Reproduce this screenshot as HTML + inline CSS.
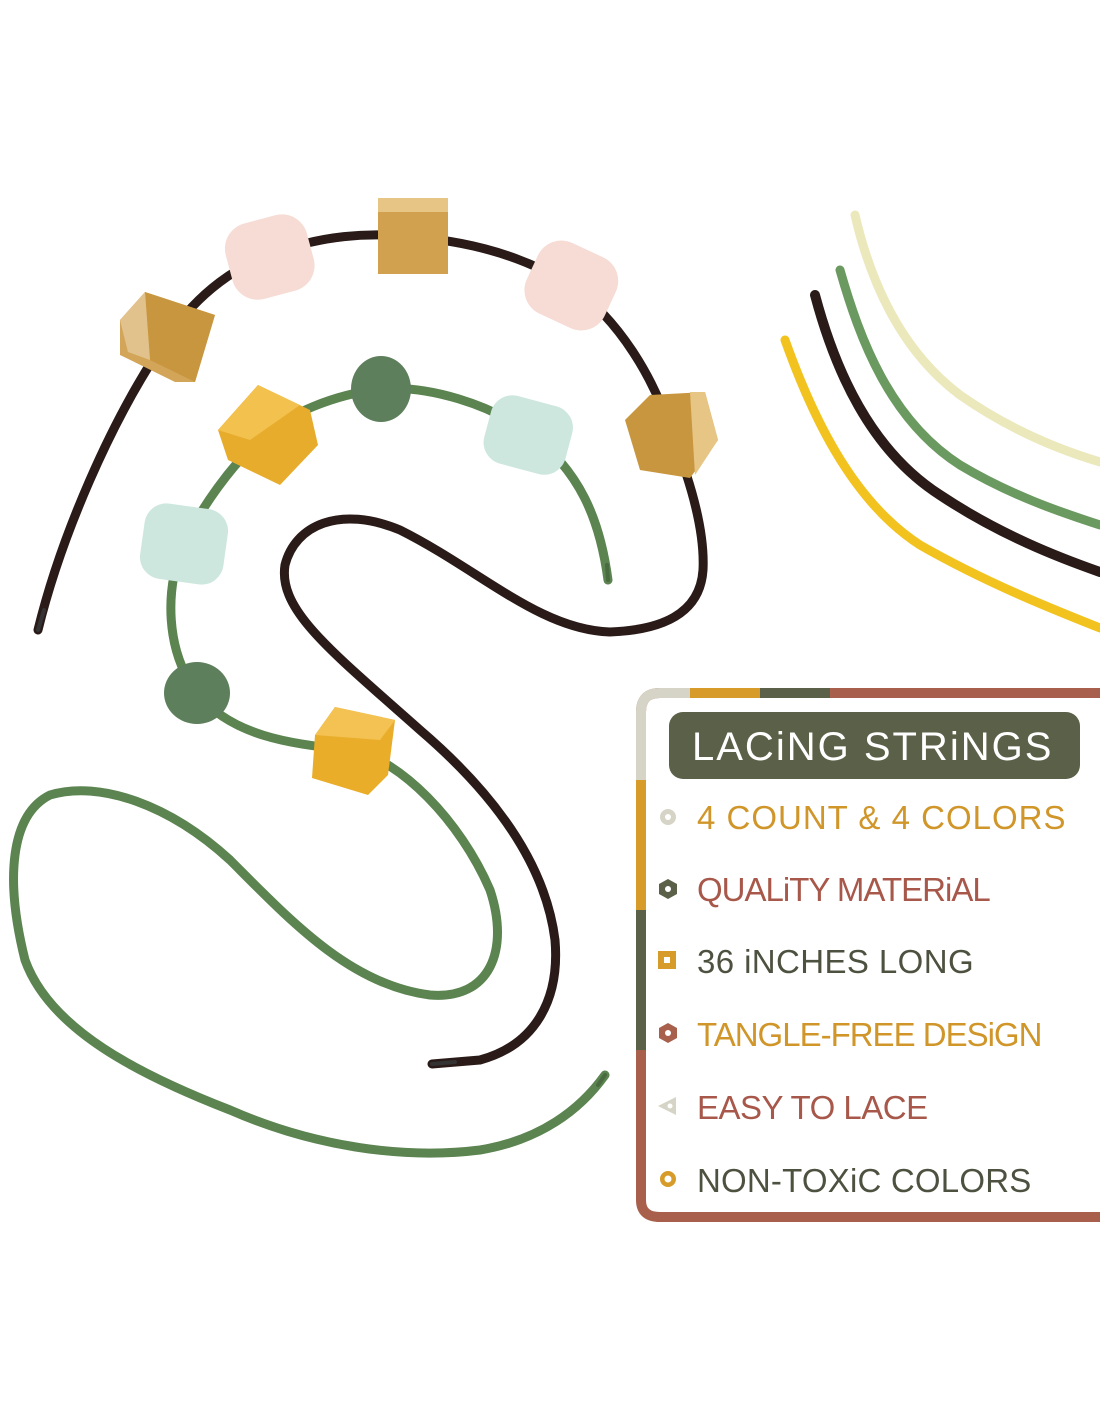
<!DOCTYPE html>
<html><head><meta charset="utf-8"><style>
html,body{margin:0;padding:0;background:#fff;width:1100px;height:1422px;overflow:hidden;font-family:"Liberation Sans",sans-serif}
svg{position:absolute;left:0;top:0}
.t{position:absolute;font-size:33px;letter-spacing:1px;white-space:nowrap;line-height:1}
</style></head><body>
<svg width="1100" height="1422" viewBox="0 0 1100 1422">
<g fill="none" stroke-linecap="round" stroke-linejoin="round">
<path d="M855,215 C870,280 900,350 960,395 C1010,430 1060,450 1100,462" stroke="#ebe8bc" stroke-width="9"/>
<path d="M840,270 C860,340 890,420 960,465 C1010,495 1060,512 1100,525" stroke="#6b9a60" stroke-width="9"/>
<path d="M815,295 C835,370 870,450 940,495 C1000,535 1060,558 1100,572" stroke="#2a1b18" stroke-width="10"/>
<path d="M785,340 C810,410 850,500 920,545 C990,585 1060,612 1100,628" stroke="#f2c31f" stroke-width="9"/>
<path d="M38,630 C60,540 110,420 168,337 C200,290 240,265 270,255 C320,235 370,232 412,237 C480,242 530,260 570,285 C620,320 655,380 672,435 C690,480 705,530 703,570 C700,615 660,630 610,632 C540,630 480,570 400,530 C340,505 295,525 285,565 C278,610 330,650 420,730 C490,790 545,860 555,940 C560,1000 535,1045 480,1060 L432,1064" stroke="#2a1b18" stroke-width="9"/>
<path d="M608,580 C600,520 580,470 528,432 C490,405 430,385 381,389 C330,395 290,415 268,432 C230,465 200,510 183,545 C165,590 165,650 197,693 C230,735 290,745 353,750 C400,760 460,820 490,890 C510,950 490,1000 430,995 C350,985 290,920 230,860 C170,805 100,780 50,795 C10,815 5,880 25,960 C50,1030 140,1075 230,1110 C310,1145 400,1160 480,1150 C540,1140 580,1110 605,1075" stroke="#5b8450" stroke-width="9"/>
</g>
<g stroke-width="4" stroke-linecap="round">
<line x1="38" y1="630" x2="44" y2="610" stroke="#333"/>
<line x1="432" y1="1064" x2="455" y2="1062" stroke="#333"/>
<line x1="605" y1="1075" x2="598" y2="1085" stroke="#4a6a40"/>
<line x1="608" y1="580" x2="607" y2="565" stroke="#4a6a40"/>
</g>
<g>
<polygon points="120,320 145,292 215,315 195,382 175,382 120,355" fill="#d3a558"/>
<polygon points="145,292 215,315 195,382 150,360" fill="#c8963f"/>
<polygon points="120,320 145,292 150,360 128,352" fill="#e2c28c"/>
<rect x="228" y="218" width="84" height="78" rx="26" fill="#f6dcd4" transform="rotate(-15 270 258)"/>
<rect x="378" y="198" width="70" height="76" fill="#d2a150"/>
<rect x="378" y="198" width="70" height="14" fill="#e6c585"/>
<rect x="528" y="246" width="86" height="78" rx="26" fill="#f6dcd4" transform="rotate(25 570 286)"/>
<polygon points="625,420 650,395 705,392 718,440 690,478 640,470" fill="#c8963f"/>
<polygon points="690,392 705,392 718,440 695,475" fill="#e6c585"/>
</g>
<g>
<polygon points="218,430 258,385 310,410 318,445 280,485 228,460" fill="#e8ac2c"/>
<polygon points="218,430 258,385 300,405 250,440" fill="#f2c14e"/>
<ellipse cx="381" cy="389" rx="30" ry="33" fill="#5e7f5c"/>
<rect x="486" y="400" width="84" height="70" rx="22" fill="#cde7df" transform="rotate(15 528 436)"/>
<rect x="142" y="506" width="84" height="76" rx="22" fill="#cde7df" transform="rotate(8 184 544)"/>
<ellipse cx="197" cy="693" rx="33" ry="31" fill="#5e7f5c"/>
<polygon points="315,735 335,707 395,720 388,775 368,795 312,778" fill="#e9ad2a"/>
<polygon points="315,735 335,707 395,720 380,740" fill="#f3c253"/>
</g>
<path d="M1100,693 L660,693 Q641,693 641,712 L641,1200 Q641,1217 660,1217 L1100,1217" fill="none" stroke="#a8604c" stroke-width="10"/>
<path d="M695,693 L660,693 Q641,693 641,712 L641,780" fill="none" stroke="#d6d4c6" stroke-width="10"/>
<line x1="690" y1="693" x2="760" y2="693" stroke="#d79b2a" stroke-width="10"/>
<line x1="760" y1="693" x2="830" y2="693" stroke="#5b6148" stroke-width="10"/>
<line x1="641" y1="780" x2="641" y2="910" stroke="#d79b2a" stroke-width="10"/>
<line x1="641" y1="910" x2="641" y2="1050" stroke="#5b6148" stroke-width="10"/>
<circle cx="668" cy="817" r="8" fill="#d6d4c6"/><circle cx="668" cy="817" r="3" fill="#fff"/>
<polygon points="668,879 677,884 677,894 668,899 659,894 659,884" fill="#5b6148"/><circle cx="668" cy="889" r="3" fill="#fff"/>
<rect x="658" y="951" width="18" height="18" fill="#d79b2a"/><rect x="664" y="957" width="6" height="6" fill="#fff"/>
<polygon points="668,1023 677,1028 677,1038 668,1043 659,1038 659,1028" fill="#a8604c"/><circle cx="668" cy="1033" r="3" fill="#fff"/>
<polygon points="658,1106 676,1097 676,1115" fill="#d6d4c6"/><circle cx="670" cy="1106" r="2.5" fill="#fff"/>
<circle cx="668" cy="1179" r="8" fill="#d79b2a"/><circle cx="668" cy="1179" r="3.5" fill="#fff"/>
<rect x="669" y="712" width="411" height="67" rx="14" fill="#5b6148"/>
</svg>
<div class="t" style="left:692px;top:727px;font-size:40px;color:#fff;letter-spacing:2px">LACiNG STRiNGS</div>
<div class="t" style="left:697px;top:801px;color:#d0962a">4 COUNT &amp; 4 COLORS</div>
<div class="t" style="left:697px;top:873px;color:#a8584a;letter-spacing:-1px">QUALiTY MATERiAL</div>
<div class="t" style="left:697px;top:945px;color:#4d5240;letter-spacing:0.4px">36 iNCHES LONG</div>
<div class="t" style="left:697px;top:1018px;color:#d0962a;letter-spacing:-1px">TANGLE-FREE DESiGN</div>
<div class="t" style="left:697px;top:1091px;color:#a8584a;letter-spacing:-0.5px">EASY TO LACE</div>
<div class="t" style="left:697px;top:1164px;color:#4d5240;letter-spacing:0.2px">NON-TOXiC COLORS</div>
</body></html>
